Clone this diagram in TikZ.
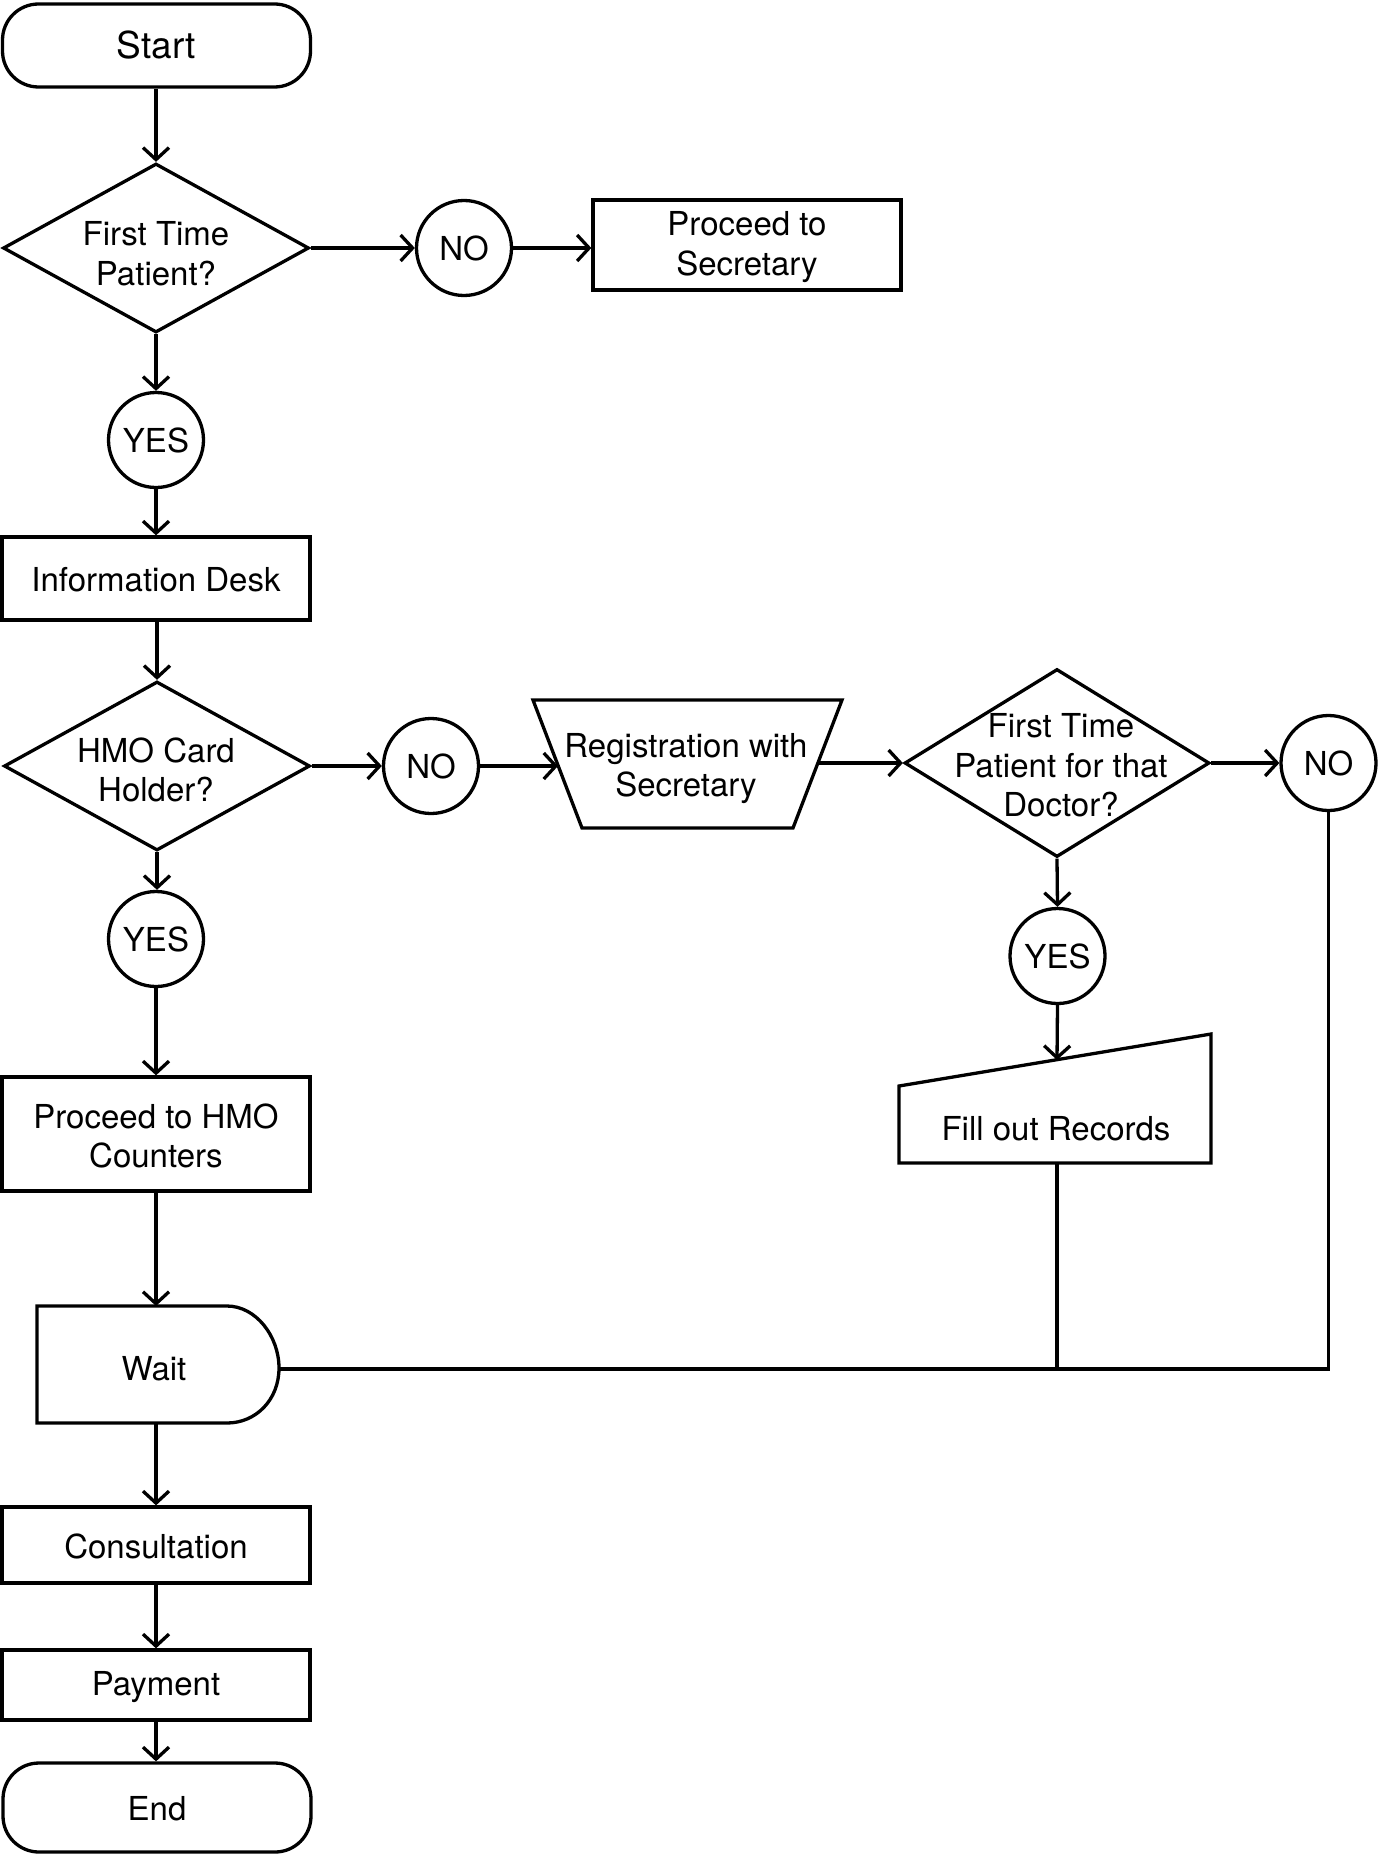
\documentclass[tikz,border=0pt]{standalone}
\usepackage{fontspec}
\setmainfont{TeX Gyre Heros}
\usetikzlibrary{arrows.meta,shapes.geometric}
\begin{document}
\begin{tikzpicture}[x=1pt,y=-1pt,
  line width=3.3pt, line join=miter,
  every node/.style={font=\fontsize{33}{39.5}\selectfont, align=center, inner sep=0pt},
  box/.style={draw, rectangle, minimum width=308pt},
  term/.style={draw, rectangle, rounded corners=36pt, minimum width=308pt},
  dia/.style={draw, diamond, minimum width=306pt},
  circ/.style={draw, circle, minimum size=95pt},
  arr/.style={-{Straight Barb[length=12pt,width=26pt]}},
  conn/.style={-}
]
\useasboundingbox (0,0) rectangle (1379,1854);

% main column
\node[term, minimum height=83pt, font=\fontsize{37}{44}\selectfont] (start) at (156.5,45.5) {Start};
\node[dia, minimum height=169pt] (d1) at (156,248) {};
\node at (156,253.5) {First Time\\Patient?};
\node[circ] (no1) at (464,248) {NO};
\node[box, minimum height=90pt] (sec) at (747,245) {};
\node at (747,247) {Proceed to\\Secretary};
\node[circ] (yes1) at (156,440) {YES};
\node[box, minimum height=83pt] (info) at (156,578.5) {};
\node at (156,580) {Information Desk};
\node[dia, minimum height=169pt] (d2) at (157,766) {};
\node at (156,770) {HMO Card\\Holder?};
\node[circ] (no2) at (431,766) {NO};

% registration trapezoid
\draw (533,700) -- (842,700) -- (793,828) -- (582,828) -- cycle;
\node (reg) at (686,768.5) {Registration with\\Secretary};
\coordinate (regL) at (558,766);
\coordinate (regR) at (818.3,763);

\node[dia, minimum width=305pt, minimum height=188pt] (d3) at (1057,763) {};
\node at (1061,765.5) {First Time\\Patient for that\\Doctor?};
\node[circ] (no3) at (1328.5,763) {NO};
\node[circ] (yes3) at (1057.5,956) {YES};

% manual input
\draw (899,1163) -- (899,1086) -- (1211,1034) -- (1211,1163) -- cycle;
\node (rec) at (1056,1128.5) {Fill out Records};
\coordinate (recT) at (1057,1060);
\coordinate (recB) at (1057,1163);

\node[circ] (yes2) at (156,939) {YES};
\node[box, minimum height=114pt] (hmo) at (156,1134) {};
\node at (156,1136) {Proceed to HMO\\Counters};

% wait (delay)
\draw (37,1306) -- (227,1306) .. controls (255.7,1306) and (279,1336) .. (279,1368)
  .. controls (279,1400) and (255.7,1423) .. (227,1423) -- (37,1423) -- cycle;
\node (wait) at (154,1369) {Wait};
\coordinate (waitT) at (156,1306);
\coordinate (waitB) at (156,1423);
\coordinate (waitE) at (279,1369);
\coordinate (j1) at (1057,1369);
\coordinate (j2) at (1328.5,1369);

\node[box, minimum height=76pt] (cons) at (156,1545) {};
\node at (156,1546.5) {Consultation};
\node[box, minimum height=70pt] (pay) at (156,1685) {};
\node at (156,1687) {Payment};
\node[term, minimum height=89pt] (end) at (157,1807.5) {};
\node at (157,1808.5) {End};

% connectors
\draw[arr] (start.south -| d1.north) -- (d1.north);
\draw[arr] (d1.east) -- (no1.west);
\draw[arr] (no1.east) -- (sec.west |- no1.east);
\draw[arr] (d1.south) -- (yes1.north);
\draw[arr] (yes1.south) -- (info.north -| yes1.south);
\draw[arr] (info.south -| d2.north) -- (d2.north);
\draw[arr] (d2.east) -- (no2.west);
\draw[arr] (no2.east) -- (regL);
\draw[arr] (regR) -- (d3.west);
\draw[arr] (d3.east) -- (no3.west);
\draw[arr] (d3.south) -- (yes3.north);
\draw[arr] (yes3.south) -- (recT);
\draw[arr] (d2.south) -- (yes2.north -| d2.south);
\draw[arr] (yes2.south) -- (hmo.north -| yes2.south);
\draw[arr] (hmo.south) -- (waitT);
\draw[arr] (waitB) -- (cons.north);
\draw[arr] (cons.south) -- (pay.north);
\draw[arr] (pay.south) -- (end.north -| pay.south);
\draw[conn] (recB) -- (j1);
\draw[conn] (waitE) -- (j2) -- (no3.south);
\end{tikzpicture}
\end{document}
